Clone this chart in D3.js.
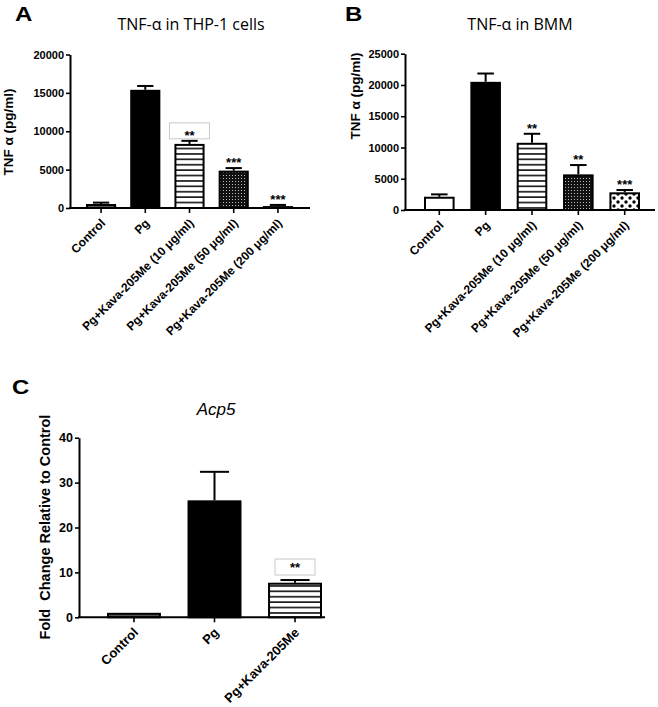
<!DOCTYPE html>
<html>
<head>
<meta charset="utf-8">
<script src="https://cdn.jsdelivr.net/npm/d3@7"></script>
<style>
  body { margin: 0; background: #fff; }
  svg { display: block; }
  .tick text { font-family: 'Liberation Sans', Arial, sans-serif; font-weight: bold; }
</style>
</head>
<body>
<svg id="fig"></svg>
<script>
// data
const tnfGroups = ['Control', 'Pg', 'Pg+Kava-205Me (10 μg/ml)', 'Pg+Kava-205Me (50 μg/ml)', 'Pg+Kava-205Me (200 μg/ml)']
const thpMean = [520, 15400, 8350, 4870, 250]
const thpSem = [180, 500, 400, 330, 150]
const thpStars = ['', '', '**', '***', '***']
const thpTicks = [0, 5000, 10000, 15000, 20000]

const bmmMean = [2120, 20500, 10750, 5700, 2830]
const bmmSem = [380, 1330, 1440, 1490, 370]
const bmmStars = ['', '', '**', '**', '***']
const bmmTicks = [0, 5000, 10000, 15000, 20000, 25000]

const acpGroups = ['Control', 'Pg', 'Pg+Kava-205Me']
const acpMean = [1.0, 26.05, 7.7]
const acpSem = [0, 6.35, 0.6]
const acpStars = ['', '', '**']
const acpTicks = [0, 10, 20, 30, 40]

const FILLS = ['#fff', '#000', 'url(#stripes)', 'url(#dots)', 'url(#bigdots)']
const AXIS_FONT = "'Liberation Sans', Arial, sans-serif"
const TITLE_FONT = "'Open Sans', 'Noto Sans', sans-serif"

const svg = d3.select('#fig').attr('width', 658).attr('height', 707)

// fill patterns
const defs = svg.append('defs')
const stripes = defs.append('pattern').attr('id', 'stripes')
  .attr('patternUnits', 'userSpaceOnUse').attr('width', 6).attr('height', 5.4)
stripes.append('rect').attr('width', 6).attr('height', 5.4).attr('fill', '#fff')
stripes.append('rect').attr('y', 2).attr('width', 6).attr('height', 1.5).attr('fill', '#000')

const dots = defs.append('pattern').attr('id', 'dots')
  .attr('patternUnits', 'userSpaceOnUse').attr('width', 3).attr('height', 3)
dots.append('rect').attr('width', 3).attr('height', 3).attr('fill', '#111')
dots.append('rect').attr('x', 1).attr('y', 1).attr('width', 1).attr('height', 1).attr('fill', '#bbb')

const bigdots = defs.append('pattern').attr('id', 'bigdots')
  .attr('patternUnits', 'userSpaceOnUse').attr('width', 8).attr('height', 8)
bigdots.append('rect').attr('width', 8).attr('height', 8).attr('fill', '#fff')
bigdots.append('circle').attr('cx', 2).attr('cy', 2).attr('r', 1.7).attr('fill', '#000')
bigdots.append('circle').attr('cx', 6).attr('cy', 6).attr('r', 1.7).attr('fill', '#000')

function makePanel(o) {
  const g = svg.append('g')
  const x = d3.scaleBand()
    .domain(o.groups)
    .range([o.barStart, o.barEnd])
    .paddingInner(o.padding)
    .paddingOuter(0)
  const y = d3.scaleLinear()
    .domain([0, o.ticks[o.ticks.length - 1]])
    .range([o.bottom, o.top])
  const bw = x.bandwidth()
  const data = o.groups.map((name, i) => ({name, mean: o.mean[i], sem: o.sem[i], star: o.stars[i], fill: FILLS[i]}))

  // bars
  g.selectAll('.bar').data(data).enter().append('rect')
    .attr('class', 'bar')
    .attr('x', d => x(d.name) + 1)
    .attr('width', bw - 2)
    .attr('y', d => y(d.mean) + 1)
    .attr('height', d => Math.max(0, y(0) - y(d.mean) - 1))
    .attr('fill', d => (y(0) - y(d.mean) < 6 && d.fill != '#000') ? '#555' : d.fill)
    .attr('stroke', '#000')
    .attr('stroke-width', 2)

  // error bars (upper only)
  const err = g.selectAll('.err').data(data.filter(d => d.sem > 0)).enter().append('g')
    .attr('class', 'err')
    .attr('stroke', '#000').attr('stroke-width', 2)
  err.append('line')
    .attr('x1', d => x(d.name) + bw / 2).attr('x2', d => x(d.name) + bw / 2)
    .attr('y1', d => y(d.mean)).attr('y2', d => y(d.mean + d.sem))
  err.append('line')
    .attr('x1', d => x(d.name) + bw * 0.23).attr('x2', d => x(d.name) + bw * 0.77)
    .attr('y1', d => y(d.mean + d.sem)).attr('y2', d => y(d.mean + d.sem))

  // faint frame around some of the stars
  if (o.box) {
    const d = data[o.box.index]
    const cx = x(d.name) + bw / 2
    g.append('rect')
      .attr('x', cx - o.box.w / 2).attr('y', y(d.mean + d.sem) - o.box.gap - 16)
      .attr('width', o.box.w).attr('height', 16)
      .attr('fill', 'none').attr('stroke', '#c8c8c8').attr('stroke-width', 1)
  }

  g.selectAll('.star').data(data.filter(d => d.star)).enter().append('text')
    .attr('class', 'star')
    .attr('x', d => x(d.name) + bw / 2)
    .attr('y', d => y(d.mean + d.sem) - o.starGap)
    .attr('text-anchor', 'middle')
    .attr('font-family', AXIS_FONT).attr('font-weight', 'bold')
    .attr('font-size', o.starSize)
    .text(d => d.star)

  // y axis
  const yAxis = g.append('g')
    .attr('transform', `translate(${o.left},0)`)
    .call(d3.axisLeft(y).tickValues(o.ticks).tickFormat(d3.format('d')).tickSize(4).tickSizeOuter(0))
  yAxis.select('.domain').attr('stroke-width', 2)
  yAxis.selectAll('.tick line').attr('stroke-width', 1.6)
  yAxis.selectAll('.tick text').attr('font-size', o.yFontSize).attr('fill', '#000').attr('dx', 1)

  // x axis
  const xAxis = g.append('g')
    .attr('transform', `translate(0,${o.bottom})`)
    .call(d3.axisBottom(x).tickSize(5).tickSizeOuter(0))
  xAxis.select('.domain').remove()
  xAxis.append('line')
    .attr('x1', o.left - 1).attr('x2', o.right)
    .attr('stroke', '#000').attr('stroke-width', 2)
  xAxis.selectAll('.tick line').attr('stroke-width', 1.6)
  xAxis.selectAll('.tick text')
    .attr('font-size', o.xFontSize).attr('fill', '#000')
    .attr('text-anchor', 'end')
    .attr('dy', 0)
    .attr('y', 0)
    .attr('transform', `translate(${o.labelDx},${o.labelDy}) rotate(-45)`)

  // y title
  svg.append('text')
    .attr('transform', `translate(${o.ytX},${o.ytY}) rotate(-90)`)
    .attr('text-anchor', 'middle')
    .attr('font-family', AXIS_FONT).attr('font-weight', 'bold')
    .attr('font-size', o.ytSize)
    .style('white-space', 'pre')
    .text(o.yTitle)

  // chart title
  svg.append('text')
    .attr('x', o.titleX).attr('y', o.titleY)
    .attr('text-anchor', 'middle')
    .attr('font-family', o.titleFont).attr('font-style', o.titleStyle)
    .attr('font-size', o.titleSize)
    .text(o.title)

  // panel letter
  svg.append('text')
    .attr('x', o.letterX).attr('y', o.letterY)
    .attr('font-family', AXIS_FONT).attr('font-weight', 'bold')
    .attr('font-size', 20)
    .attr('transform', `translate(${o.letterX},${o.letterY}) scale(1.2,1) translate(${-o.letterX},${-o.letterY})`)
    .text(o.letter)
}

makePanel({
  groups: tnfGroups, mean: thpMean, sem: thpSem, stars: thpStars, ticks: thpTicks,
  barStart: 86, barEnd: 293, padding: 0.318, top: 54.5, bottom: 208, left: 70, right: 310,
  yFontSize: 11, xFontSize: 12, labelDx: 5, labelDy: 16, starSize: 13, starGap: 1,
  box: {index: 2, w: 40, gap: 2},
  yTitle: 'TNF α (pg/ml)', ytX: 13, ytY: 132, ytSize: 13.5,
  title: 'TNF-α in THP-1 cells', titleX: 191, titleY: 30, titleFont: TITLE_FONT, titleStyle: 'normal', titleSize: 16,
  letter: 'A', letterX: 15, letterY: 21
})

makePanel({
  groups: tnfGroups, mean: bmmMean, sem: bmmSem, stars: bmmStars, ticks: bmmTicks,
  barStart: 424, barEnd: 640, padding: 0.34, top: 53.7, bottom: 210, left: 405, right: 655,
  yFontSize: 11, xFontSize: 12, labelDx: 5, labelDy: 16, starSize: 13, starGap: 1,
  yTitle: 'TNF α (pg/ml)', ytX: 360, ytY: 96, ytSize: 13.5,
  title: 'TNF-α in BMM', titleX: 520, titleY: 30, titleFont: TITLE_FONT, titleStyle: 'normal', titleSize: 16,
  letter: 'B', letterX: 345, letterY: 21
})

makePanel({
  groups: acpGroups, mean: acpMean, sem: acpSem, stars: acpStars, ticks: acpTicks,
  barStart: 107, barEnd: 322, padding: 0.33, top: 437.7, bottom: 617.3, left: 79, right: 325,
  yFontSize: 12.5, xFontSize: 13, labelDx: 5, labelDy: 16, starSize: 13, starGap: 8,
  box: {index: 2, w: 40, gap: 5},
  yTitle: 'Fold  Change Relative to Control', ytX: 50, ytY: 527, ytSize: 14.5,
  title: 'Acp5', titleX: 216, titleY: 415, titleFont: AXIS_FONT, titleStyle: 'italic', titleSize: 17,
  letter: 'C', letterX: 12, letterY: 394
})
</script>
</body>
</html>
